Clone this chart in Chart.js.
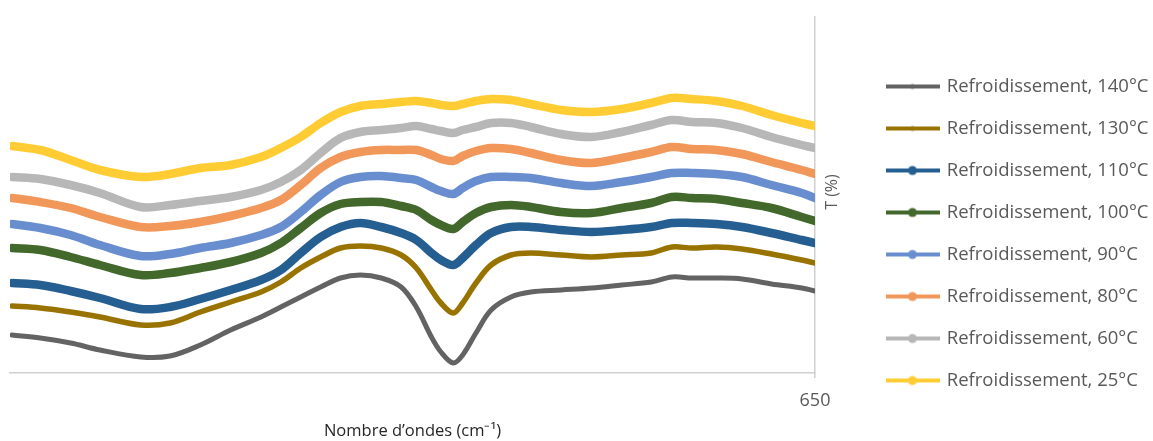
<!DOCTYPE html>
<html><head><meta charset="utf-8">
<script src="https://cdn.jsdelivr.net/npm/chart.js@4"></script>
<style>html,body{margin:0;padding:0;background:#fff;}</style>
</head><body>
<canvas id="c" width="1153" height="441"></canvas>
<script>
// Wavenumbers (cm-1), axis reversed, ending at 650
const wavenumbers = [1498,1468,1436,1405,1362,1331,1299,1267,1235,1214,1193,1172,1151,1130,1108,1087,1071,1055,1045,1032,1022,1008,992,971,950,918,886,854,823,801,780,754,727,696,664,650];
const xTickLabels = [650];
const seriesNames = ['Refroidissement, 140°C','Refroidissement, 130°C','Refroidissement, 110°C','Refroidissement, 100°C','Refroidissement, 90°C','Refroidissement, 80°C','Refroidissement, 60°C','Refroidissement, 25°C'];

const t140 = [9.5,8.75,7.5,5.75,4,4.25,7,10.75,14,16.5,19,21.5,23.75,24.5,23.75,21.5,16.5,9,5.25,2.5,4.5,10,15.75,19,20.25,20.75,21.25,22,22.75,24,23.75,23.75,23.5,22.25,21.25,20.5];
const t130 = [16.75,16.25,15.25,14,12,12.5,15.25,17.75,20.25,22.75,26.25,29,31.25,31.75,31.25,29.5,26.25,20.75,17.5,15,17.5,22.5,27,29.5,30,29.5,29,29.5,30,31.5,31.25,31.5,31,29.75,28.25,27.5];
const t110 = [22.5,22,20.5,18.75,16,16.5,18.5,20.75,23.25,25.75,30,34,36.5,37.5,36.5,35,33.25,30,28.25,27,28.75,32,35,36.5,36.5,35.75,35.25,35.75,36.5,37.5,37.5,37.25,36.5,35,33.25,32.5];
const t100 = [31.25,30.75,29,27,24.5,25,26.25,27.75,30,32.5,36.25,40,42.25,42.75,42.75,41.75,40.75,38.25,37,36,37.75,40,41.5,42,41.5,40.25,40,41.25,42.5,44,43.75,43.5,42.5,41.25,39,38];
const t90 = [37.25,36.25,34.5,32,29.25,29.75,31.25,32.5,34.5,36.5,40.25,44.5,47.75,49,49.25,48.75,48.25,46.5,45.5,44.75,46.25,48,49,49,48.75,47.5,46.75,47.75,49,50,50,49.75,49,47,45,43.75];
const t80 = [43.75,42.75,41.25,39,36.5,36.75,37.75,39.25,41.25,43.25,47,51.25,54,55.25,55.75,55.75,55.75,54.5,53.5,53,54.25,55.5,56.25,56,55,53.25,52.5,53.75,55.25,56.5,56,55.75,54.75,52.75,50.75,49.75];
const t60 = [49,48.5,47,45,41.5,42,43,44,45.75,47.75,50.75,55,58.75,60.25,60.75,61.25,61.75,61,60.5,60,60.75,61.5,62.5,62.5,61.5,59.75,59,60.25,62,63.25,62.75,62.5,61.25,59,57,56.25];
const t25 = [56.75,55.75,53.25,50.75,49,49.75,51.25,52,54,56.25,59,62.5,65.25,66.75,67.25,67.75,68,67.5,67,66.75,67.25,68,68.5,68.25,67.25,65.75,65.25,66,67.5,68.75,68.5,68,66.75,64.5,62.5,61.75];

const seriesValues = [t140,t130,t110,t100,t90,t80,t60,t25];
const colors = ['#636363','#997300','#255E91','#43682B','#698ED0','#F1975A','#B7B7B7','#FFCD33'];
const lineWidths = [5,5.5,8.5,8.5,8.5,8.5,8.5,8.5];
const markerRadii = [2.5,2.5,4.5,4.5,4.5,4.5,4.5,4.5];
const FONT = '"Open Sans", "Liberation Sans", sans-serif';
const LEG_FS = 18.5;

function makeSymbol(color, r){
  const cv = document.createElement('canvas');
  cv.width = 54; cv.height = 12;
  const g = cv.getContext('2d');
  g.strokeStyle = color; g.lineWidth = 4; g.lineCap = 'butt';
  g.beginPath(); g.moveTo(0,6); g.lineTo(54,6); g.stroke();
  g.fillStyle = color; g.beginPath(); g.arc(27,6,r,0,Math.PI*2); g.fill();
  return cv;
}
const symbols = colors.map((c,i)=>makeSymbol(c, markerRadii[i]));

const datasets = seriesNames.map((name,i)=>({
  label: name,
  data: wavenumbers.map((w,j)=>({x:w, y:seriesValues[i][j]})),
  borderColor: colors[i],
  backgroundColor: colors[i],
  borderWidth: lineWidths[i],
  borderCapStyle: 'round',
  borderJoinStyle: 'round',
  pointRadius: 0,
  tension: 0.35,
  fill: false
}));

const yTitlePlugin = {
  id: 'yTitleLeftRot',
  afterDraw(chart){
    const ctx = chart.ctx, a = chart.chartArea, ys = chart.scales.y;
    ctx.save();
    ctx.translate(ys.left + 17, (a.top + a.bottom)/2 - 3);
    ctx.rotate(-Math.PI/2);
    ctx.font = '16px ' + FONT;
    ctx.fillStyle = '#595959';
    ctx.textAlign = 'center';
    ctx.textBaseline = 'middle';
    ctx.fillText('T (%)', 0, 0);
    ctx.restore();
  }
};
const legendShift = {
  id: 'legendShift',
  afterLayout(chart){ const l = chart.legend; if(l){ l.top += 4.5; l.bottom += 4.5; } }
};

new Chart(document.getElementById('c'), {
  type: 'line',
  data: { datasets },
  plugins: [yTitlePlugin, legendShift],
  options: {
    responsive: false,
    animation: false,
    layout: { padding: { top: 17, left: 10, right: 0, bottom: 0 } },
    scales: {
      x: {
        type: 'linear', reverse: true, min: 650, max: 1500,
        afterBuildTicks: s => { s.ticks = xTickLabels.map(v=>({value:v})); },
        ticks: { font: { family: FONT, size: 18 }, color: '#595959', padding: 12, maxRotation: 0, autoSkip: false },
        grid: { display: true, drawOnChartArea: false, drawTicks: true, tickLength: 5, color: '#D0D0D0', lineWidth: 1.5 },
        border: { display: true, color: '#D0D0D0', width: 1.5 },
        title: { display: true, text: 'Nombre d’ondes (cm⁻¹)', font: { family: FONT, size: 16.5 }, color: '#262626', padding: { top: 0, bottom: 0 } },
        afterFit: s => { s.height = 68; }
      },
      y: {
        position: 'right', min: 0, max: 89,
        ticks: { display: false },
        grid: { display: false, drawTicks: false },
        border: { display: true, color: '#D0D0D0', width: 1.5 },
        afterFit: s => { s.width = 49; }
      }
    },
    plugins: {
      tooltip: { enabled: false },
      legend: {
        position: 'right',
        maxWidth: 289,
        labels: {
          usePointStyle: true,
          pointStyleWidth: 50,
          padding: 42 - LEG_FS,
          color: '#595959',
          font: { family: FONT, size: LEG_FS },
          generateLabels: chart => Chart.defaults.plugins.legend.labels.generateLabels(chart).map((l,i)=>Object.assign(l,{pointStyle: symbols[i]}))
        }
      }
    }
  }
});
</script>
</body></html>
